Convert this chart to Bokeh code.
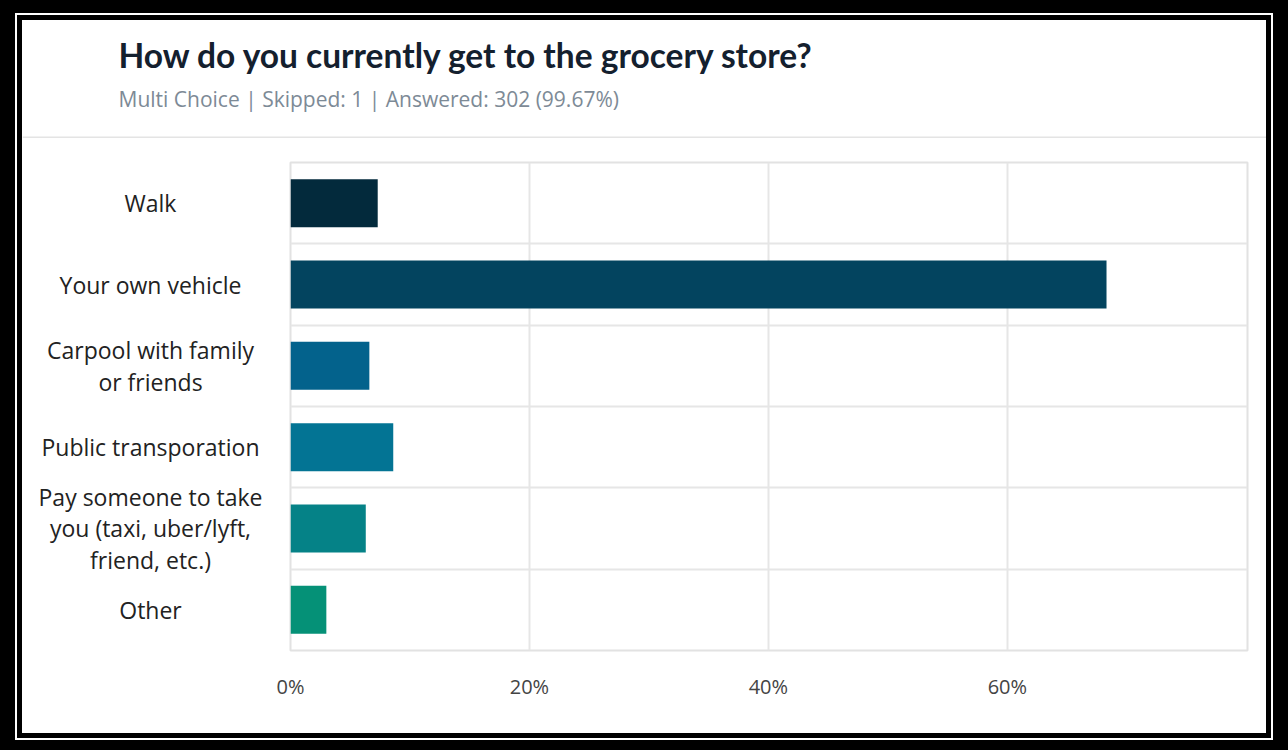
from bokeh.plotting import figure
from bokeh.models import Range1d, FixedTicker, Span, Spacer, ColumnDataSource
from bokeh.core.properties import value
from bokeh.layouts import column, row
from bokeh.embed import file_html
from bokeh.resources import INLINE

# ---- data ----
title_text = "How do you currently get to the grocery store?"
subtitle_text = "Multi Choice | Skipped: 1 | Answered: 302 (99.67%)"
categories = [
    "Walk",
    "Your own vehicle",
    "Carpool with family\nor friends",
    "Public transporation",
    "Pay someone to take\nyou (taxi, uber/lyft,\nfriend, etc.)",
    "Other",
]
percent = [7.3, 68.3, 6.6, 8.6, 6.3, 3.0]
bar_colors = ["#032a3c", "#03445f", "#03628c", "#037494", "#058287", "#059177"]
x_ticks = [0, 20, 40, 60]
x_tick_labels = {0: "0%", 20: "20%", 40: "40%", 60: "60%"}

# ---- layout constants ----
W, H = 1244, 713          # white card
HDR = 118                 # header height
CH = H - HDR              # chart row height
LW = 253                  # label column width
n = len(categories)
centers = [i + 0.5 for i in range(n)]
yr = Range1d(n, 0)
WHITE = {"background-color": "white"}

# ---- header ----
hdr = figure(width=W, height=HDR, output_backend="svg", toolbar_location=None,
             x_range=Range1d(0, W), y_range=Range1d(HDR, 0),
             min_border=0, min_border_left=0, min_border_right=0,
             min_border_top=0, min_border_bottom=0)
hdr.axis.visible = False
hdr.grid.visible = False
hdr.outline_line_color = None
hdr.border_fill_color = "white"
hdr.text(x=[96], y=[34], text=[title_text], text_font=value("Lato"),
         text_font_style="bold", text_font_size="33.5px", text_color="#14202e",
         text_baseline="middle")
hdr.text(x=[96], y=[78], text=[subtitle_text], text_font=value("Open Sans"),
         text_font_size="21px", text_color="#7d8a96", text_baseline="middle")
hdr.add_layout(Span(location=HDR - 1, dimension="width", line_color="#e4e4e4", line_width=2))

# ---- category labels column ----
lab = figure(width=LW, height=CH, output_backend="svg", toolbar_location=None,
             x_range=Range1d(0, LW), y_range=yr,
             min_border_left=0, min_border_right=0, min_border_top=24, min_border_bottom=83)
lab.axis.visible = False
lab.grid.visible = False
lab.outline_line_color = None
lab.border_fill_color = "white"
lab.text(x=[128] * n, y=centers, text=categories, text_font=value("Open Sans"),
         text_font_size="23px", text_color="#222222", text_align="center",
         text_baseline="middle", text_line_height=0.98)

# ---- chart ----
p = figure(width=W - LW, height=CH, output_backend="svg", toolbar_location=None,
           x_range=Range1d(0, 80.1), y_range=yr,
           min_border_left=15, min_border_right=19, min_border_top=24, min_border_bottom=83)
p.background_fill_color = "white"
p.border_fill_color = "white"
p.outline_line_color = "#e2e2e2"
p.outline_line_width = 2

src = ColumnDataSource(dict(y=centers, right=percent, color=bar_colors))
p.hbar(y="y", left=0, right="right", height=0.59, fill_color="color", line_color=None, source=src)

p.yaxis.visible = False
p.ygrid.ticker = FixedTicker(ticks=list(range(1, n)))
p.ygrid.grid_line_color = "#e6e6e6"
p.ygrid.grid_line_width = 2
p.xgrid.ticker = FixedTicker(ticks=x_ticks[1:])
p.xgrid.grid_line_color = "#e6e6e6"
p.xgrid.grid_line_width = 2
p.xaxis.ticker = FixedTicker(ticks=x_ticks)
p.xaxis.major_label_overrides = x_tick_labels
p.xaxis.axis_line_color = None
p.xaxis.major_tick_line_color = None
p.xaxis.minor_tick_line_color = None
p.xaxis.major_label_standoff = 16
p.xaxis.major_label_text_font = "Open Sans"
p.xaxis.major_label_text_font_size = "20px"
p.xaxis.major_label_text_color = "#444444"

for f in (hdr, lab, p):
    f.styles = WHITE

body = row(lab, p, width=W, height=CH, styles=WHITE)
card = column(hdr, body, width=W, height=H,
              styles={"background-color": "white",
                      "box-shadow": "0 0 0 5px black, 0 0 0 7px white"})

layout = column(
    Spacer(width=1288, height=20),
    row(Spacer(width=22, height=H), card),
    width=1288, height=750,
    styles={"background-color": "black"},
)

open("out.html", "w").write(file_html(layout, INLINE))
